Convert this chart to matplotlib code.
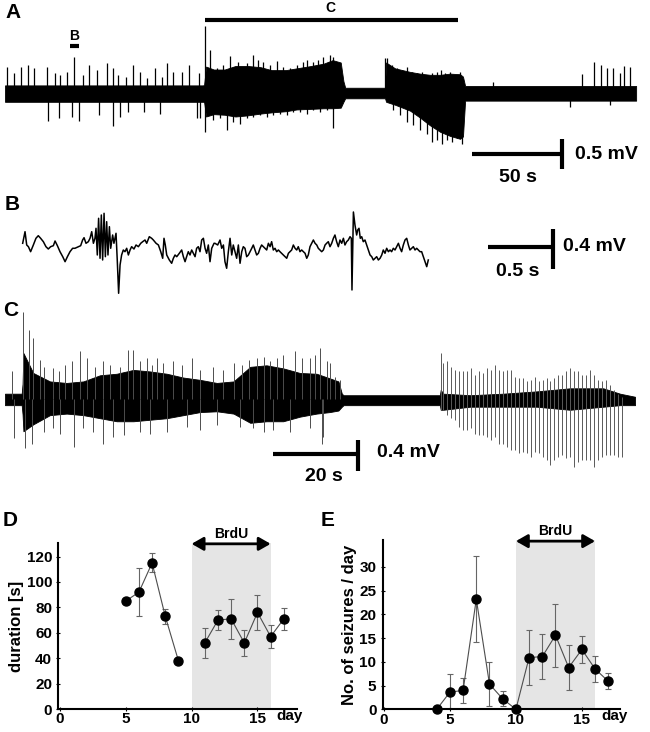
import matplotlib
matplotlib.use('Agg')
import matplotlib.pyplot as plt
import numpy as np

plt.rcParams['font.family'] = ['Liberation Sans', 'DejaVu Sans']
plt.rcParams['font.weight'] = 'bold'
plt.rcParams['axes.labelweight'] = 'bold'

# ---------------- Panel A : long EEG trace (time in s, voltage in mV) ----------------
a_env_t = [0, 110.0, 110.6, 111.7, 116, 122, 128, 135, 142, 148, 156, 162, 170, 177, 182, 186.5,
           188.0, 189.0, 211.1, 211.7, 216.7, 225, 230.6, 236.1, 241.7, 247.2, 252.8, 254.4, 255.6, 350.6]
a_env_hi = [0.13, 0.13, 0.14, 0.45, 0.40, 0.40, 0.46, 0.46, 0.44, 0.39, 0.39, 0.42, 0.46, 0.50, 0.56, 0.52,
            0.20, 0.09, 0.09, 0.52, 0.42, 0.36, 0.33, 0.31, 0.31, 0.33, 0.32, 0.28, 0.12, 0.12]
a_env_lo = [-0.15, -0.15, -0.15, -0.40, -0.36, -0.37, -0.40, -0.38, -0.35, -0.33, -0.31, -0.28, -0.27, -0.26, -0.26, -0.25,
            -0.15, -0.09, -0.09, -0.15, -0.20, -0.30, -0.42, -0.55, -0.66, -0.73, -0.78, -0.74, -0.13, -0.13]
# spikes / excursions rising above the band
a_up_t = [1.3, 5.0, 8.7, 13.0, 16.3, 23.1, 27.8, 30.6, 34.3, 38.3, 43.1, 46.9, 50.9, 56.5, 60.2, 63.0,
          67.2, 70.9, 75.0, 78.7, 83.3, 87.0, 89.8, 93.5, 98.1, 102.4, 108.0,
          111.1, 113.9, 117.6, 120.9, 125.0, 126.9, 129.6, 131.5, 134.3, 138.0, 140.8, 143.5, 147.2,
          150.9, 154.6, 158.3, 162.0, 165.7, 167.6, 171.3, 174.1, 176.9, 179.6, 180.6, 182.4,
          211.1, 212.0, 214.8, 217.6, 220.4, 223.2, 225.9, 228.7, 231.5, 234.3, 237.0, 239.8, 242.0,
          244.5, 247.2, 250.0, 252.8,
          271.3, 320.4, 327.2, 330.9, 334.3, 337.6, 341.7, 343.9, 347.2]
a_up_v = [0.45, 0.34, 0.45, 0.48, 0.42, 0.45, 0.34, 0.31, 0.36, 0.61, 0.31, 0.48, 0.39, 0.51, 0.42, 0.31,
          0.28, 0.48, 0.36, 0.25, 0.42, 0.28, 0.51, 0.36, 0.36, 0.48, 0.34,
          1.14, 0.73, 0.42, 0.48, 0.63, 0.45, 0.53, 0.45, 0.51, 0.65, 0.56, 0.53, 0.48,
          0.55, 0.45, 0.42, 0.48, 0.53, 0.57, 0.53, 0.56, 0.62, 0.53, 0.65, 0.61,
          0.59, 0.59, 0.48, 0.42, 0.39, 0.45, 0.36, 0.34, 0.36, 0.31, 0.34, 0.36, 0.39,
          0.34, 0.36, 0.31, 0.36,
          0.18, 0.32, 0.53, 0.48, 0.42, 0.42, 0.34, 0.46, 0.45]
# spikes / excursions falling below the band
a_dn_t = [24.1, 30.2, 37.0, 41.3, 52.4, 60.2, 63.9, 68.3, 77.2, 86.1, 106.5, 108.3,
          111.1, 115.7, 119.5, 123.2, 126.9, 130.6, 134.3, 138.0, 141.7, 145.4, 149.1, 152.8, 156.5,
          160.2, 163.9, 167.6, 171.3, 175.0, 178.7, 182.4,
          215.7, 219.4, 223.2, 226.9, 230.6, 234.3, 237.0, 239.8, 242.6, 245.4, 248.2, 250.9, 253.7,
          313.9, 336.1]
a_dn_v = [-0.47, -0.43, -0.40, -0.47, -0.38, -0.57, -0.40, -0.32, -0.32, -0.35, -0.43, -0.43,
          -0.66, -0.46, -0.43, -0.63, -0.49, -0.52, -0.43, -0.40, -0.38, -0.40, -0.38, -0.35, -0.38,
          -0.32, -0.32, -0.35, -0.29, -0.32, -0.29, -0.60,
          -0.29, -0.38, -0.49, -0.55, -0.63, -0.69, -0.83, -0.80, -0.86, -0.80, -0.83, -0.77, -0.86,
          -0.23, -0.21]

# ---------------- Panel B : expanded trace (time in ms, voltage in uV) ----------------
b_t = [36, 54, 67, 80, 97, 118, 138, 156, 174, 195, 215, 233, 251, 272, 285, 303, 323, 344, 362, 380,
       400, 420, 438, 464, 482, 497, 508, 523, 541, 554, 567, 580, 592, 600, 610, 620, 631, 641, 651, 662,
       672, 682, 692, 703, 713, 728, 738, 754, 764, 774, 785, 797, 810, 823, 836, 849, 862, 874, 892, 908,
       926, 944, 959, 977, 990, 1010, 1028, 1041, 1062, 1080, 1098, 1113, 1123, 1133, 1144, 1164, 1182,
       1195, 1208, 1221, 1241, 1259, 1272, 1285, 1297, 1310, 1323, 1336, 1349, 1362, 1374, 1387, 1400,
       1413, 1426, 1439, 1451, 1464, 1477, 1490, 1508,
       1515, 1536, 1554, 1567, 1580, 1592, 1605, 1618, 1631, 1644, 1656, 1669, 1682, 1695, 1708, 1721,
       1733, 1746, 1759, 1772, 1785, 1798, 1810, 1823, 1836, 1849, 1862, 1874, 1887, 1900, 1913, 1926,
       1939, 1951, 1964, 1977, 1990, 2003, 2015, 2028, 2041, 2054, 2067, 2080, 2092, 2105, 2118, 2131,
       2144, 2156, 2169, 2182, 2195, 2208, 2221, 2233, 2246, 2259, 2272, 2285, 2298, 2310, 2323, 2336,
       2349, 2362, 2374, 2387, 2400, 2413, 2426, 2438, 2451, 2464, 2477, 2490, 2503, 2515, 2528, 2541,
       2554, 2564, 2569, 2580, 2592, 2605, 2613, 2623, 2633, 2644, 2656, 2669, 2682, 2695, 2708, 2721,
       2733, 2746, 2759, 2772, 2785, 2798, 2810, 2823, 2836, 2849, 2862, 2874, 2887, 2900, 2913, 2926,
       2939, 2951, 2964, 2977, 2990, 3003, 3015, 3028, 3041, 3054, 3067, 3080, 3092, 3105, 3118, 3131,
       3144, 3156]
b_v = [37, 153, 20, 3, -47, 20, 87, 113, 87, 53, 3, -20, 3, 13, 60, 13, -47, -97, -147, -97,
       -47, -13, -13, 3, 13, 70, 93, 37, 53, 87, 153, 37, 87, 187, -80, 287, -113, 320, -130, 337,
       -97, 253, -80, 203, -13, 120, 37, 137, -147, -463, -180, -80, -30, -47, -13, -80, -30, 3, -20, 20,
       3, 37, 53, 70, 37, 103, 87, 70, 37, 20, -47, -113, 87, 20, -80, -130, -163,
       -113, -80, -97, -63, -30, -97, -147, -97, -47, -80, -30, -63, -97, -13, 3, -47,
       70, 87, -13, -63, 20, -147, -13, 37,
       37, 20, 70, -13, 20, -147, -213, -47, 87, -80, 20, -47, -113, 20, -163, -47,
       3, -13, -97, -80, -47, -13, 20, -30, -80, -63, -13, 20, 3, -13, -30, 37,
       3, 53, -30, -13, -47, -30, -47, -63, -80, -97, -113, -63, -47, -30, 20, -13,
       -30, 3, -47, -30, -47, -63, -113, -80, 3, 37, 70, 37, 20, -13, -30, -47,
       -30, 20, 37, 53, 3, 37, 87, 120, 53, 3, 70, 37, 87, 20, 53, 70,
       103, 87, -430, 350, 220, 120, 170, 187, 87, 103, 53, 70, 20, -30, -80, -97,
       -130, -113, -97, -130, -113, -80, -30, -63, -13, -47, -30, -47, -13, -30, 3, 37,
       -13, -47, 20, 70, 87, 20, -30, -13, 3, -30, -13, -30, -47, -47, -97, -147,
       -197, -130]

# ---------------- Panel C : seizure trace (time in s, voltage in mV) ----------------
c_env_t = [0, 3.9, 4.1, 4.3, 6.6, 10.5, 14.4, 18.3, 22.2, 26.1, 30.0, 33.9, 37.8, 41.7, 45.6, 49.5,
           53.4, 57.3, 61.1, 65.0, 68.9, 72.8, 75.9, 77.9, 78.7, 79.1, 101.6, 101.8, 102.4, 108.7,
           116.4, 124.2, 132.0, 139.8, 143.7, 147.2]
c_env_hi = [0.07, 0.07, 0.20, 0.60, 0.34, 0.23, 0.21, 0.23, 0.31, 0.33, 0.38, 0.36, 0.33, 0.28, 0.25, 0.21,
            0.23, 0.42, 0.44, 0.40, 0.34, 0.33, 0.27, 0.23, 0.07, 0.05, 0.05, 0.12, 0.07, 0.05,
            0.07, 0.10, 0.14, 0.14, 0.07, 0.03]
c_env_lo = [-0.08, -0.08, -0.20, -0.42, -0.33, -0.21, -0.19, -0.21, -0.25, -0.29, -0.29, -0.27, -0.25, -0.21, -0.17, -0.16,
            -0.19, -0.31, -0.29, -0.29, -0.23, -0.19, -0.17, -0.15, -0.10, -0.08, -0.08, -0.14, -0.14, -0.10,
            -0.10, -0.10, -0.14, -0.10, -0.08, -0.08]
c_up_t = [1.6, 4.3, 5.5, 6.6, 8.2, 11.3, 14.0, 17.5, 19.1, 23.0, 28.8, 30.0, 33.1, 35.4, 39.3, 43.6,
          48.7, 53.4, 56.9, 60.4, 63.5, 67.8, 71.3, 73.6, 75.9, 77.1, 78.3,
          9.0, 12.5, 15.6, 21.0, 24.5, 26.9, 31.5, 34.3, 37.0, 41.3, 45.6, 51.0, 55.3, 58.8, 61.9,
          65.0, 69.3, 72.5, 75.2]
c_up_v = [0.36, 1.14, 0.90, 0.79, 0.51, 0.40, 0.44, 0.62, 0.53, 0.49, 0.64, 0.64, 0.53, 0.53, 0.49, 0.53,
          0.42, 0.47, 0.51, 0.55, 0.53, 0.62, 0.53, 0.66, 0.47, 0.29, 0.25,
          0.42, 0.36, 0.49, 0.42, 0.44, 0.42, 0.49, 0.44, 0.47, 0.44, 0.38, 0.38, 0.44, 0.53, 0.49,
          0.57, 0.53, 0.57, 0.49]
c_dn_t = [2.0, 4.7, 6.2, 12.9, 16.1, 23.0, 31.5, 45.6, 58.0, 74.0, 74.4,
          9.0, 11.3, 18.3, 20.6, 25.3, 27.7, 33.9, 37.8, 42.5, 49.5, 54.9, 60.4, 62.7, 66.6, 71.3]
c_dn_v = [-0.51, -0.64, -0.58, -0.45, -0.62, -0.58, -0.43, -0.40, -0.38, -0.58, -0.49,
          -0.43, -0.38, -0.38, -0.43, -0.49, -0.47, -0.45, -0.43, -0.36, -0.34, -0.36, -0.43, -0.40, -0.43, -0.38]
c_spk_t = [101.8, 102.4, 103.2, 104.1, 105.1, 106.0, 106.9, 107.9, 108.8, 109.7, 110.7, 111.6, 112.6,
           113.5, 114.4, 115.4, 116.3, 117.2, 118.2, 119.1, 120.0, 121.0, 121.9, 122.8, 123.8, 124.7,
           125.6, 126.6, 127.4, 128.3, 129.2, 130.2, 131.1, 132.0, 133.0, 133.9, 134.8, 135.8, 136.7,
           137.6, 138.6, 139.5, 140.4, 141.4, 142.3, 143.2, 144.1]
c_spk_top = [0.60, 0.47, 0.49, 0.42, 0.38, 0.36, 0.36, 0.36, 0.40, 0.31, 0.36, 0.34, 0.40,
             0.38, 0.44, 0.38, 0.36, 0.38, 0.38, 0.29, 0.27, 0.27, 0.23, 0.25, 0.29, 0.23,
             0.25, 0.27, 0.23, 0.27, 0.31, 0.31, 0.36, 0.40, 0.36, 0.36, 0.31, 0.31, 0.38,
             0.31, 0.25, 0.23, 0.25, 0.18, 0.12, 0.07, 0.03]
c_spk_bot = [-0.14, -0.14, -0.21, -0.25, -0.27, -0.36, -0.40, -0.40, -0.38, -0.45, -0.47, -0.47, -0.49,
             -0.53, -0.49, -0.58, -0.58, -0.62, -0.67, -0.67, -0.71, -0.69, -0.71, -0.75, -0.69, -0.71,
             -0.75, -0.80, -0.86, -0.80, -0.75, -0.73, -0.77, -0.75, -0.88, -0.82, -0.80, -0.80, -0.80,
             -0.88, -0.80, -0.75, -0.73, -0.73, -0.73, -0.75, -0.75]

# ---------------- Panels D and E ----------------
d_day = [5, 6, 7, 8, 9, 11, 12, 13, 14, 15, 16, 17]
d_dur = [85, 92, 115, 73, 38, 52, 70, 71, 52, 76, 57, 71]
d_err = [0, 19, 7.5, 6, 0, 12, 8, 16, 10, 14, 9, 8.5]
e_day = [4, 5, 6, 7, 8, 9, 10, 11, 12, 13, 14, 15, 16, 17]
e_num = [0, 3.6, 4.0, 23.2, 5.3, 2.2, 0, 10.9, 11.1, 15.6, 8.8, 12.6, 8.5, 5.9]
e_err = [0, 3.8, 2.6, 9.0, 4.7, 1.6, 0, 5.8, 4.8, 6.6, 4.7, 2.9, 2.8, 1.7]
brdu_start, brdu_end = 10, 16

fig = plt.figure(figsize=(6.5, 7.32), dpi=100)

def trace_axes(rect, xlim, ylim):
    ax = fig.add_axes(rect)
    ax.set_xlim(*xlim)
    ax.set_ylim(*ylim)
    ax.axis('off')
    return ax

def scalebar(ax, x0, x1, y0, y1, ycen):
    ax.plot([x0, x1], [ycen, ycen], color='k', lw=3, solid_capstyle='butt')
    ax.plot([x1, x1], [y0, y1], color='k', lw=3, solid_capstyle='butt')

# ---- A ----
axA = trace_axes([0, 0.7404, 1, 0.2596], (-2.78, 358.3), (-1.652, 1.584))
axA.vlines(a_up_t, 0, a_up_v, color='k', lw=0.9)
axA.vlines(a_dn_t, a_dn_v, 0, color='k', lw=0.9)
axA.fill_between(a_env_t, a_env_lo, a_env_hi, color='k', lw=0.6)
axA.plot([111.1, 251.7], [1.244, 1.244], color='k', lw=3, solid_capstyle='butt')
axA.text(180.6, 1.448, 'C', ha='center', va='center', fontsize=10)
axA.plot([36.1, 41.1], [0.80, 0.80], color='k', lw=3, solid_capstyle='butt')
axA.text(38.6, 0.97, 'B', ha='center', va='center', fontsize=10)
scalebar(axA, 259.3, 309.3, -0.789, -1.289, -1.039)
axA.text(285, -1.443, '50 s', ha='center', va='center', fontsize=14)
axA.text(316.5, -1.05, '0.5 mV', ha='left', va='center', fontsize=14)

# ---- B ----
axB = trace_axes([0, 0.5902, 1, 0.1434], (-138.5, 4861.5), (-530, 520))
axB.plot(b_t, b_v, color='k', lw=1.1)
scalebar(axB, 3615, 4115, 180, -220, 0)
axB.text(3846, -250, '0.5 s', ha='center', va='center', fontsize=14)
axB.text(4190, 0, '0.4 mV', ha='left', va='center', fontsize=14)

# ---- C ----
axC = trace_axes([0, 0.3169, 1, 0.2732], (-1.17, 150.7), (-1.317, 1.291))
axC.vlines(c_up_t, 0, c_up_v, color='0.3', lw=0.7)
axC.vlines(c_dn_t, c_dn_v, 0, color='0.3', lw=0.7)
axC.vlines(c_spk_t, c_spk_bot, c_spk_top, color='0.35', lw=0.7)
axC.fill_between(c_env_t, c_env_lo, c_env_hi, color='k', lw=0.6)
scalebar(axC, 62.5, 82.5, -0.535, -0.935, -0.717)
axC.text(74.4, -1.013, '20 s', ha='center', va='center', fontsize=14)
axC.text(87.0, -0.70, '0.4 mV', ha='left', va='center', fontsize=14)

# ---- D / E ----
def stat_panel(rect, xlim, ylim, yticks, ylabel, days, vals, errs, connect_gap):
    ax = fig.add_axes(rect)
    ax.set_xlim(*xlim)
    ax.set_ylim(*ylim)
    top = ylim[1]
    ax.fill_between([brdu_start, brdu_end], 0, top, color='#e5e5e5', lw=0, zorder=0)
    ax.errorbar(days, vals, yerr=errs, fmt='none', ecolor='0.4', elinewidth=0.8,
                capsize=2, capthick=0.8, zorder=2)
    d = np.asarray(days, float)
    v = np.asarray(vals, float)
    if connect_gap:
        ax.plot(d, v, color='0.3', lw=0.8, zorder=3)
    else:
        breaks = np.where(np.diff(d) > 1)[0] + 1
        for seg_d, seg_v in zip(np.split(d, breaks), np.split(v, breaks)):
            ax.plot(seg_d, seg_v, color='0.3', lw=0.8, zorder=3)
    ax.plot(d, v, 'o', color='k', ms=6.5, zorder=4, clip_on=False)
    ax.annotate('', xy=(brdu_end, top * 0.995), xytext=(brdu_start, top * 0.995),
                arrowprops=dict(arrowstyle='<|-|>,head_length=0.7,head_width=0.4',
                                lw=2, color='k', shrinkA=0, shrinkB=0),
                annotation_clip=False)
    ax.text((brdu_start + brdu_end) / 2, top * 1.055, 'BrdU', ha='center', va='center',
            fontsize=10, fontweight='bold')
    for s in ['top', 'right']:
        ax.spines[s].set_visible(False)
    for s in ['left', 'bottom']:
        ax.spines[s].set_linewidth(1.5)
    ax.set_yticks(yticks)
    ax.set_yticklabels([str(t) for t in yticks], fontsize=11, fontweight='bold')
    ax.set_xticks([0, 5, 10, 15])
    ax.set_xticklabels(['0', '5', '10', '15'], fontsize=11, fontweight='bold')
    ax.tick_params(axis='both', direction='inout', length=3, width=0.8)
    ax.tick_params(axis='x', pad=1)
    ax.tick_params(axis='y', pad=3)
    ax.text(17.45, 0, 'day', transform=ax.get_xaxis_transform(), ha='center', va='top',
            fontsize=11, fontweight='bold')
    ax.set_ylabel(ylabel, fontsize=12, fontweight='bold', labelpad=2)
    return ax

axD = stat_panel([0.0897, 0.0314, 0.3668, 0.2268], (-0.12, 17.98), (0, 130.7),
                 [0, 20, 40, 60, 80, 100, 120], 'duration [s]', d_day, d_dur, d_err, False)
axE = stat_panel([0.5888, 0.0310, 0.3651, 0.2309], (-0.09, 17.89), (0, 35.6),
                 [0, 5, 10, 15, 20, 25, 30], 'No. of seizures / day', e_day, e_num, e_err, True)

# panel letters
for lbl, x, y in [('A', 13, 12), ('B', 12, 205), ('C', 11, 311), ('D', 10, 520), ('E', 328, 520)]:
    fig.text(x / 650, 1 - y / 732, lbl, ha='center', va='center', fontsize=15, fontweight='bold')

fig.savefig('out.png', dpi=100)
